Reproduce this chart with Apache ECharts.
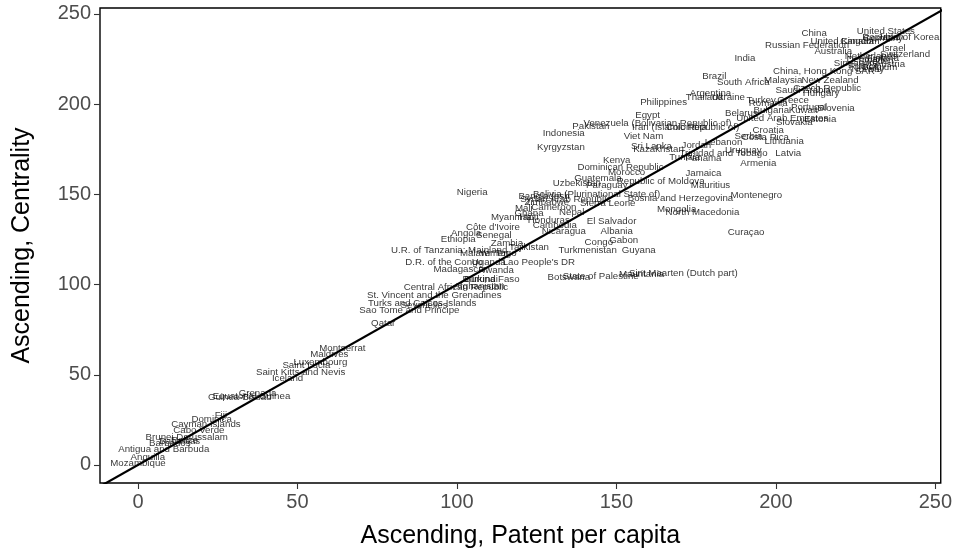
<!DOCTYPE html>
<html>
<head>
<meta charset="utf-8">
<script src="https://cdn.jsdelivr.net/npm/echarts@6/dist/echarts.min.js"></script>
<style>
  html, body { margin: 0; padding: 0; background: #fff; }
  #chart { width: 955px; height: 560px; }
</style>
</head>
<body>
<div id="chart"></div>
<script>
// Country rankings: ascending rank of patents per capita vs. ascending rank of centrality
const countries = [
  "United States", "China", "Republic of Korea", "Japan", "Germany", "Russian Federation",
  "United Kingdom", "Canada", "Israel", "Australia", "Switzerland", "Netherlands",
  "Denmark", "Finland", "Sweden", "Singapore", "France", "Austria", "Belgium", "Norway",
  "China, Hong Kong SAR", "New Zealand", "Malaysia", "South Africa", "Brazil", "India",
  "Czech Republic", "Saudi Arabia", "Hungary", "Turkey", "Greece", "Romania", "Portugal",
  "Slovenia", "Bulgaria", "Kuwait", "United Arab Emirates", "Estonia", "Slovakia",
  "Croatia", "Serbia", "Costa Rica", "Lithuania", "Latvia", "Trinidad and Tobago",
  "Armenia", "Argentina", "Thailand", "Ukraine", "Philippines", "Egypt", "Belarus",
  "Venezuela (Bolivarian Republic of)", "Pakistan", "Iran (Islamic Republic of)",
  "Colombia", "Viet Nam", "Sri Lanka", "Kazakhstan", "Jordan", "Lebanon", "Tunisia",
  "Panama", "Uruguay", "Kenya", "Dominican Republic", "Morocco", "Jamaica",
  "Republic of Moldova", "Guatemala", "Uzbekistan", "Paraguay", "Mauritius",
  "Bolivia (Plurinational State of)", "Bangladesh", "Syrian Arab Republic",
  "Bosnia and Herzegovina", "Sierra Leone", "Zimbabwe", "Cameroon", "Nepal", "Mongolia",
  "North Macedonia", "Montenegro", "El Salvador", "Albania", "Nicaragua", "Gabon",
  "Congo", "Turkmenistan", "Guyana", "Curaçao", "Sint Maarten (Dutch part)",
  "State of Palestine", "Mauritania", "Botswana", "Burkina Faso", "Burundi",
  "Central African Republic", "Afghanistan", "Madagascar", "Rwanda", "Lao People's DR",
  "Uganda", "D.R. of the Congo", "Malawi", "Yemen", "Togo", "U.R. of Tanzania: Mainland",
  "Tajikistan", "Zambia", "Angola", "Ethiopia", "Senegal", "Côte d'Ivoire", "Myanmar",
  "Ghana", "Haiti", "Mali", "Honduras", "Cambodia", "Nigeria", "Kyrgyzstan", "Indonesia",
  "St. Vincent and the Grenadines", "Turks and Caicos Islands", "Seychelles",
  "Sao Tome and Principe", "Qatar", "Montserrat", "Maldives", "Luxembourg",
  "Saint Lucia", "Saint Kitts and Nevis", "Iceland", "Grenada", "Equatorial Guinea",
  "Guinea-Bissau", "Fiji", "Dominica", "Cayman Islands", "Cabo Verde",
  "Brunei Darussalam", "Bahamas", "Barbados", "Belize", "Antigua and Barbuda",
  "Anguilla", "Mozambique"
];

const patentRank = [
  234.5, 212.0, 239.2, 236.1, 233.6, 209.8,
  221.7, 225.5, 237.0, 218.0, 240.5, 229.8,
  228.3, 233.6, 231.4, 225.1, 227.6, 235.8, 232.6, 228.9,
  215.1, 217.0, 202.3, 189.8, 180.7, 190.3,
  216.1, 208.6, 214.2, 195.4, 205.4, 197.6, 210.4,
  218.9, 198.6, 208.6, 202.0, 213.9, 205.8,
  197.6, 191.4, 196.7, 202.6, 203.9, 183.6,
  194.5, 179.5, 177.6, 185.1, 164.8, 159.8, 189.2,
  162.9, 142.0, 171.7,
  172.0, 158.5, 161.0, 163.2, 175.1, 183.6, 171.4,
  177.3, 189.8, 150.1, 151.3, 153.2, 177.3,
  163.9, 144.2, 137.6, 147.0, 179.5,
  143.8, 127.3, 134.1,
  170.1, 147.3, 128.2, 130.4, 136.0, 168.9,
  177.0, 193.9, 148.5, 150.1, 133.5, 152.3,
  144.5, 141.0, 157.0, 190.7, 171.0,
  145.1, 157.9, 135.1, 110.7, 107.6,
  99.7, 107.0, 101.0, 112.3, 125.7,
  110.0, 96.0, 105.7, 111.6, 115.4, 97.6,
  122.6, 115.7, 102.9, 100.4, 111.6, 111.3, 117.0,
  122.6, 122.6, 121.0, 128.8, 130.7, 104.8, 132.6, 133.5,
  92.9, 89.1, 89.7,
  85.1, 76.9, 64.1, 60.0, 57.2,
  52.8, 51.0, 46.9, 37.5, 35.6,
  31.9, 26.0, 23.1, 21.3, 19.1,
  15.3, 13.1, 10.0, 14.7, 8.1,
  3.1, 0.0
];

const centralityRank = [
  240.6, 239.5, 237.3, 237.3, 236.7, 232.8,
  235.0, 235.0, 231.2, 229.5, 227.8, 226.7,
  225.1, 225.6, 224.0, 222.8, 221.2, 222.3, 220.3, 219.2,
  218.4, 213.4, 213.4, 212.3, 215.6, 225.6,
  209.0, 207.9, 206.2, 202.3, 202.3, 200.7, 198.4,
  197.9, 196.8, 196.8, 192.4, 191.8, 190.1,
  185.7, 182.4, 181.8, 179.6, 172.9, 172.9,
  167.4, 206.2, 204.0, 204.0, 201.2, 194.0, 195.1,
  189.6, 187.9, 187.4,
  187.4, 182.4, 176.8, 175.2, 177.4, 179.0, 170.7,
  170.2, 174.6, 169.1, 165.2, 162.4, 161.9,
  157.4, 159.1, 156.3, 155.2, 155.2,
  150.2, 149.1, 147.5,
  148.0, 145.2, 145.8, 143.0, 140.2, 141.9,
  140.2, 149.7, 135.3, 129.7, 129.7, 124.7,
  123.6, 119.2, 119.2, 129.2, 106.4,
  104.8, 105.9, 104.2, 103.1, 103.1,
  98.7, 99.2, 108.6, 108.1, 112.5,
  112.5, 112.5, 117.5, 117.5, 117.5, 119.2,
  120.8, 123.1, 128.6, 125.3, 127.5, 131.9, 137.5,
  139.7, 137.5, 142.5, 135.8, 133.0, 151.3, 176.3, 184.0,
  94.2, 89.8, 88.7,
  85.9, 78.7, 64.9, 61.5, 57.1,
  55.4, 51.6, 48.2, 39.9, 38.2,
  37.7, 27.7, 25.5, 22.7, 19.4,
  15.5, 13.3, 12.2, 13.9, 8.9,
  4.4, 1.1
];

const xTicks = [0, 50, 100, 150, 200, 250];
const yTicks = [0, 50, 100, 150, 200, 250];
// Reference line y = x, drawn across the whole panel
const identityEnds = [-20, 270];

const labelPoints = countries.map((name, i) => ({
  name: name,
  value: [patentRank[i], centralityRank[i]]
}));

const chart = echarts.init(document.getElementById('chart'), null, { renderer: 'canvas' });

const FONT = 'Liberation Sans, Arial, sans-serif';

function axisBase(ticks) {
  return {
    type: 'value',
    splitLine: { show: false },
    axisLine: { show: false, onZero: false },
    axisTick: {
      show: true,
      inside: false,
      length: 6,
      customValues: ticks,
      lineStyle: { color: '#333333', width: 1.1 }
    },
    axisLabel: {
      color: '#4D4D4D',
      fontSize: 20,
      fontFamily: FONT,
      margin: 9,
      customValues: ticks
    },
    nameTextStyle: {
      color: '#000000',
      fontSize: 25,
      fontFamily: FONT
    },
    nameLocation: 'middle'
  };
}

chart.setOption({
  animation: false,
  backgroundColor: '#ffffff',
  grid: {
    left: 100, right: 12, top: 8, bottom: 77,
    show: true,
    borderColor: '#000000',
    borderWidth: 1.4,
    backgroundColor: 'transparent'
  },
  xAxis: Object.assign(axisBase(xTicks), {
    min: -11.9, max: 251.7,
    name: 'Ascending, Patent per capita',
    nameGap: 41
  }),
  yAxis: Object.assign(axisBase(yTicks), {
    min: -10, max: 253.3,
    name: 'Ascending, Centrality',
    nameGap: 65,
    nameRotate: 90
  }),
  series: [
    {
      type: 'scatter',
      silent: true,
      symbolSize: 0,
      itemStyle: { color: 'rgba(0,0,0,0)' },
      data: labelPoints,
      label: {
        show: true,
        position: 'inside',
        formatter: '{b}',
        color: '#000000',
        fontSize: 9.7,
        fontFamily: FONT
      },
      emphasis: { disabled: true },
      z: 2
    },
    {
      type: 'line',
      silent: true,
      showSymbol: false,
      clip: true,
      data: identityEnds.map(v => [v, v]),
      lineStyle: { color: '#000000', width: 2.2 },
      z: 5
    }
  ]
});
</script>
</body>
</html>
